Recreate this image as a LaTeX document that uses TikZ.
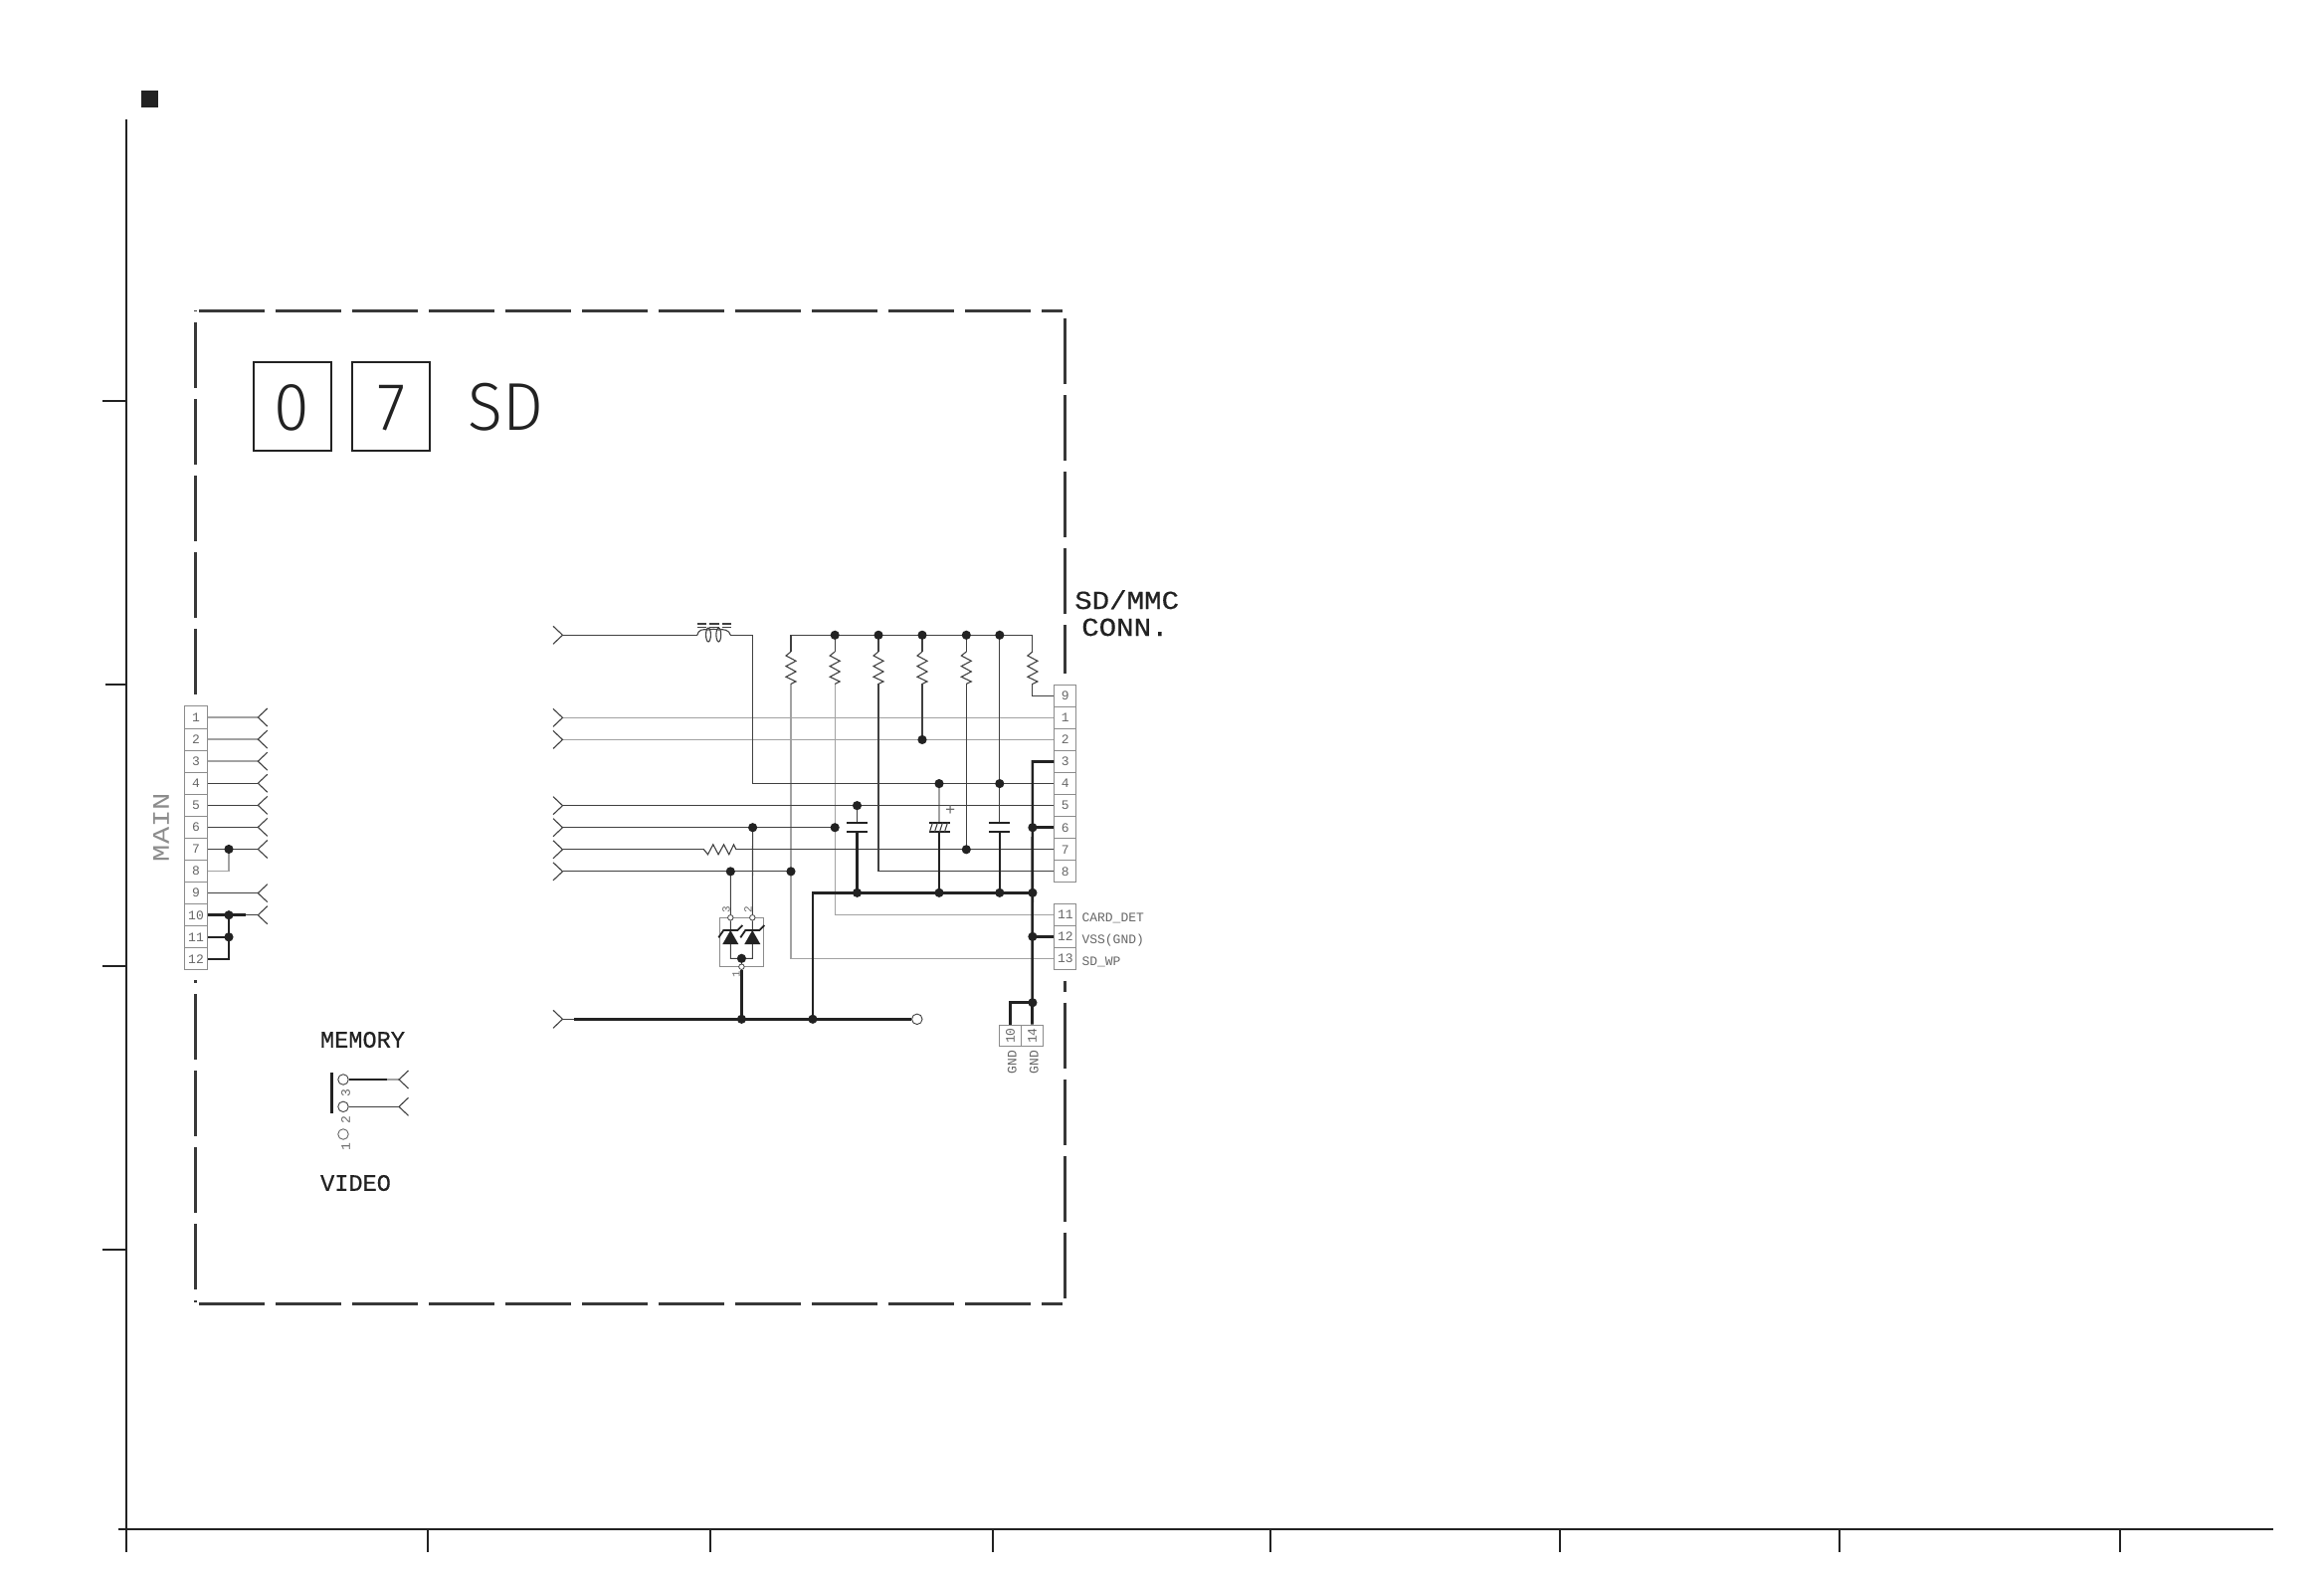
\documentclass[tikz,border=0pt]{standalone}
\usepackage{fontspec}
\setmainfont{Liberation Sans}
\newfontfamily\monoface{Liberation Mono}
\newfontfamily\heavyface[FakeBold=0.5]{Liberation Mono}
\newfontfamily\wideface[FakeStretch=1.2]{Liberation Mono}
\newfontfamily\wideheavy[FakeStretch=1.12,FakeBold=0.5]{Liberation Mono}
\newfontfamily\thinface[FakeStretch=0.95]{Fira Sans Light}

\definecolor{ink}{HTML}{222222}
\definecolor{wiredark}{HTML}{404040}
\definecolor{wirepale}{HTML}{A2A2A2}
\definecolor{labelgray}{HTML}{666666}
\definecolor{mainlabel}{HTML}{8C8C8C}

\pgfdeclarelayer{bg}
\pgfsetlayers{bg,main}

\tikzset{
  axisline/.style={draw=ink,line width=2pt},
  framedash/.style={draw=ink!90,line width=3pt,dash pattern=on 66pt off 11pt},
  thinw/.style={draw=wiredark,line width=1.1pt},
  palew/.style={draw=wirepale,line width=1.4pt},
  thickw/.style={draw=ink,line width=2.6pt},
  pincell/.style={draw=black!45,line width=1pt,minimum width=21.7pt,minimum height=22.07pt,inner sep=0pt,text=labelgray,font=\monoface\fontsize{13}{13}\selectfont},
  smalltext/.style={text=labelgray,inner sep=0pt,font=\monoface\fontsize{13}{13}\selectfont},
  bigtext/.style={text=ink,inner sep=0pt,font=\heavyface\fontsize{23.6}{24}\selectfont},
  titlebox/.style={draw=ink,line width=1.8pt,minimum width=78pt,minimum height=89pt,inner sep=0pt,text height=47pt,text depth=0pt,text=ink,font=\thinface\fontsize{68}{68}\selectfont},
  opendot/.style={circle,draw=wiredark,fill=white,line width=.8pt,inner sep=0pt,minimum size=5.5pt},
  openring/.style={circle,draw=wiredark,fill=white,line width=.9pt,inner sep=0pt,minimum size=10.5pt},
  resistor/.pic={
    \draw[thinw] (0,0) -- (-5,4) -- (5,9.3) -- (-5,14.6) -- (5,20) -- (-5,25.3) -- (5,30) -- (0,32.4);
  },
  plates/.pic={
    \draw[draw=ink,line width=2.2pt] (-10.5,-4.7) -- (10.5,-4.7) (-10.5,4.7) -- (10.5,4.7);
  },
  zener/.pic={
    \fill[ink] (0,0) -- (8,14) -- (-8,14) -- cycle;
    \draw[draw=ink,line width=1.8pt] (-12,7.3) -- (-7,0) -- (7,0) -- (12,-5);
  },
}

\begin{document}
\begin{tikzpicture}[x=1pt,y=-1pt]
  \useasboundingbox (0,0) rectangle (2336,1584);

  % sheet rulers
  \fill[ink] (142,91) rectangle (159,108);
  \coordinate (axtop) at (127,120);
  \coordinate (axbot) at (127,1560);
  \coordinate (axleft) at (119,1537);
  \coordinate (axright) at (2285,1537);
  \draw[axisline] (axtop) -- (axbot);
  \draw[axisline] (axleft) -- (axright);
  \foreach \y/\l in {403/103,688/106,971/103,1256/103} {
    \draw[axisline] (\l,\y) -- (127,\y);
  };
  \foreach \x in {430,714,998,1277,1568,1849,2131} {
    \draw[axisline] (\x,1537) -- (\x,1560);
  };

  % dashed block outline, broken at the two connectors
  \draw[framedash] (200,312.7) -- (1068,312.7);
  \draw[framedash] (200,1310.7) -- (1068,1310.7);
  \draw[framedash,dash phase=65pt] (196.7,312) -- (196.7,698);
  \draw[framedash,dash phase=63pt] (196.7,985) -- (196.7,1309);
  \draw[framedash,dash phase=17pt] (1070.7,676.7) -- (1070.7,315);
  \draw[framedash,dash phase=55pt] (1070.7,985.7) -- (1070.7,1306);

  % title
  \node[titlebox] (box0) at (293.7,408.8) {0};
  \node[titlebox] (box7) at (393.3,408.8) {7};
  \node[anchor=base west,inner sep=0pt,text=ink,font=\thinface\fontsize{68}{68}\selectfont] (sdtitle) at (470,432.3) {SD};

  % SD/MMC connector
  \foreach [count=\n] \p in {9,1,2,3,4,5,6,7,8} {
    \pgfmathsetmacro\yy{699.3+22.07*(\n-1)}
    \node[pincell] (sd\p) at (1070.8,\yy) {\p};
    \coordinate (in\p) at (565.5,\yy);
  };
  \foreach [count=\n] \p in {11,12,13} {
    \pgfmathsetmacro\yy{919.3+22.07*(\n-1)}
    \node[pincell] (sd\p) at (1070.8,\yy) {\p};
  };
  \node[pincell,rotate=90] (gnd10) at (1015.5,1041) {10};
  \node[pincell,rotate=90] (gnd14) at (1037.5,1041) {14};

  % MAIN connector
  \foreach \n in {1,...,12} {
    \pgfmathsetmacro\yy{721+22.08*(\n-1)}
    \node[pincell,minimum width=22.6pt] (main\n) at (197,\yy) {\n};
    \coordinate (out\n) at (259.3,\yy);
  };

  % columns above the connector
  \foreach \x [count=\n] in {795,839.2,883,927,971.3,1037.9} {
    \coordinate (top\n) at (\x,638.3);
    \coordinate (rt\n) at (\x,655);
    \coordinate (rb\n) at (\x,687.4);
  };
  \coordinate (topc) at (1004.8,638.3);
  \coordinate (inlead) at (565.5,638.3);
  \coordinate (indl) at (700.8,638.3);
  \coordinate (indr) at (734.3,638.3);
  \coordinate (indd) at (756.6,638.3);

  % junctions
  \coordinate (j4l) at (indd |- sd4);
  \coordinate (j2) at (rb4 |- sd2);
  \coordinate (j4a) at (944,0 |- sd4);
  \coordinate (j4b) at (topc |- sd4);
  \coordinate (j5) at (861.5,0 |- sd5);
  \coordinate (j6a) at (indd |- sd6);
  \coordinate (j6b) at (rb2 |- sd6);
  \coordinate (j7) at (rb5 |- sd7);
  \coordinate (j8a) at (734.3,0 |- sd8);
  \coordinate (j8b) at (rb1 |- sd8);
  \coordinate (rl) at (707.5,0 |- sd7);
  \coordinate (rr) at (740,0 |- sd7);
  \coordinate (bus0) at (816.9,897.3);
  \coordinate (busa) at (861.5,897.3);
  \coordinate (busb) at (944,897.3);
  \coordinate (busc) at (1004.8,897.3);
  \coordinate (busd) at (1037.9,897.3);
  \coordinate (b3) at (rb6 |- sd3);
  \coordinate (b6) at (rb6 |- sd6);
  \coordinate (b12) at (rb6 |- sd12);
  \coordinate (b10) at (1037.9,1007.7);
  \coordinate (b10l) at (gnd10 |- b10);
  \coordinate (c1t) at (861.5,826.7);
  \coordinate (c1b) at (861.5,836);
  \coordinate (c2t) at (944,826.7);
  \coordinate (c2b) at (944,836);
  \coordinate (c3t) at (1004.8,826.7);
  \coordinate (c3b) at (1004.8,836);
  \coordinate (c1m) at (861.5,831.3);
  \coordinate (c2m) at (944,831.3);
  \coordinate (c3m) at (1004.8,831.3);
  \coordinate (in14) at (565.5,1024.3);
  \coordinate (lowa) at (577,1024.3);
  \coordinate (lowb) at (745.4,1024.3);
  \coordinate (lowc) at (816.9,1024.3);
  \coordinate (lowd) at (915.5,1024.3);
  \node[openring] (lowend) at (921.8,1024.3) {};

  % pale wires go behind the others
  \begin{pgfonlayer}{bg}
  \draw[palew] (in1) -- (sd1.west);
  \draw[palew] (in2) -- (sd2.west);
  \draw[palew] (rb1) |- (sd13.west);
  \draw[palew] (rb2) |- (sd11.west);
  \draw[palew] (j4a) -- (c2t);
  \draw[palew] (main1.east) -- (out1);
  \draw[palew] (main2.east) -- (out2);
  \draw[palew] (main3.east) -- (out3);
  \end{pgfonlayer}

  % inputs and pull-ups
  \draw[thinw] (inlead) -- (indl);
  \draw[thinw] (indr) -- (indd) -- (j4l) -- (sd4.west);
  \draw[thinw] (top1) -- (top6);
  \foreach \n in {1,...,6} {
    \draw[thinw] (top\n) -- (rt\n);
    \pic at (rt\n) {resistor};
  };
  \draw[thinw] (rb6) |- (sd9.west);
  \draw[thinw] (rb3) |- (sd8.west);
  \draw[thinw] (rb4) -- (j2);
  \draw[thinw] (rb5) -- (j7);
  \draw[thinw] (topc) -- (c3t);
  \draw[thinw] (j5) -- (c1t);
  \draw[thinw] (in5) -- (sd5.west);
  \draw[thinw] (in6) -- (j6b);
  \draw[thinw] (in7) -- (rl);
  \draw[thinw] (rr) -- (sd7.west);
  \draw[thinw] (in8) -- (j8b);
  \pic[rotate=90] at (rl) {resistor};

  % inductor
  \draw[thinw] (indl) .. controls (702,633) and (706,632) .. (712,633) .. controls (716,632) and (719,632) .. (722.3,633) .. controls (727,632) and (733,633) .. (indr);
  \draw[thinw] (712,638) ellipse (2.4pt and 7pt);
  \draw[thinw] (722.3,638) ellipse (2.4pt and 7pt);
  \foreach \a/\b in {700.8/709.7,712.9/723,726/735} {
    \draw[thinw] (\a,627) -- (\b,627);
    \draw[thinw] (\a,630.5) -- (\b,630.5);
  };

  % capacitors
  \pic at (c1m) {plates};
  \pic at (c2m) {plates};
  \pic at (c3m) {plates};
  \foreach \h in {-8,-3,2,7} {
    \draw[thinw] (944+\h-1.5,836) -- (944+\h+1.5,826.7);
  };
  \node[smalltext,font=\monoface\fontsize{17}{17}\selectfont] (polplus) at (955.3,815) {+};

  % ground net
  \draw[thickw] (sd3.west) -- (b3) -- (gnd14.east);
  \draw[thickw] (b6) -- (sd6.west);
  \draw[thickw] (b12) -- (sd12.west);
  \draw[thickw] (b10) -- (b10l) -- (gnd10.east);
  \draw[thickw] (busd) -- (bus0) -- (lowc);
  \draw[thickw] (c1b) -- (busa);
  \draw[thickw] (c2b) -- (busb);
  \draw[thickw] (c3b) -- (busc);
  \draw[thinw] (in14) -- (lowa);
  \draw[thickw] (lowa) -- (lowd);

  % ESD pair
  \draw[draw=black!45,line width=1pt] (723.3,922.3) rectangle (767.7,971.7);
  \coordinate (z3) at (734.3,935);
  \coordinate (z2) at (756.3,935);
  \coordinate (z3b) at (734.3,963.3);
  \coordinate (z2b) at (756.3,963.3);
  \coordinate (zj) at (745.4,963.3);
  \node[opendot] (tm3) at (734.3,922.3) {};
  \node[opendot] (tm2) at (756.3,922.3) {};
  \node[opendot] (tm1) at (745.4,971.7) {};
  \draw[thinw] (j8a) -- (tm3) -- (z3) -- (z3b) -- (z2b) -- (z2) -- (tm2) -- (j6a);
  \draw[thinw] (zj) -- (tm1);
  \draw[thickw] (tm1) -- (lowb);
  \pic at (z3) {zener};
  \pic at (z2) {zener};
  \node[smalltext,rotate=90,font=\monoface\fontsize{11}{11}\selectfont] (lb3) at (730,913.7) {3};
  \node[smalltext,rotate=90,font=\monoface\fontsize{11}{11}\selectfont] (lb2) at (752,913.7) {2};
  \node[smalltext,rotate=90,font=\monoface\fontsize{11}{11}\selectfont] (lb1) at (740,979) {1};

  % MAIN wiring
  \coordinate (mj7) at (230,0 |- main7);
  \coordinate (mj10) at (230,0 |- main10);
  \coordinate (mj11) at (230,0 |- main11);
  \coordinate (mj12) at (230,0 |- main12);
  \coordinate (msplit) at (247.3,0 |- main10);
  \foreach \n in {4,5,6,7,9} {
    \draw[thinw] (main\n.east) -- (out\n);
  };
  \draw[palew] (main8.east) -- (mj7 |- main8) -- (mj7);
  \draw[thickw] (main10.east) -- (msplit);
  \draw[thinw] (msplit) -- (out10);
  \draw[thickw] (main11.east) -- (mj11);
  \draw[thickw] (main12.east) -- (mj12) -- (mj10);

  % memory / video switch
  \node[openring] (sw3) at (345,1085) {};
  \node[openring] (sw2) at (345,1112.3) {};
  \node[openring,draw=labelgray] (sw1) at (345,1140) {};
  \coordinate (swsplit) at (389.3,1085);
  \coordinate (swa) at (401,1085);
  \coordinate (swb) at (401,1112.3);
  \draw[thickw] (sw3) -- (swsplit);
  \draw[palew] (swsplit) -- (swa);
  \draw[thinw] (sw2) -- (swb);
  \draw[draw=ink,line width=2.6pt] (333.3,1078) -- (333.3,1119);
  \node[smalltext,rotate=90] (sl3) at (347.5,1098.3) {3};
  \node[smalltext,rotate=90] (sl2) at (347.5,1125.7) {2};
  \node[smalltext,rotate=90] (sl1) at (347.5,1152.7) {1};

  % signal ends
  \foreach \c in {inlead,in1,in2,in5,in6,in7,in8,in14} {
    \draw[thinw] (\c) ++(-9.5,-9) -- (\c) -- ++(-9.5,9);
  };
  \foreach \c in {out1,out2,out3,out4,out5,out6,out7,out9,out10,swa,swb} {
    \draw[thinw] (\c) ++(9.5,-9) -- (\c) -- ++(9.5,9);
  };

  % connection dots
  \foreach \j in {top2,top3,top4,top5,topc,j2,j4a,j4b,j5,j6a,j6b,j7,j8a,j8b,busa,busb,busc,busd,b6,b12,b10,lowb,lowc,zj,mj7,mj10,mj11} {
    \fill[ink] (\j) circle (4.6pt);
  };

  % labels
  \node[bigtext,anchor=base west,font=\wideheavy\fontsize{26}{26}\selectfont] (sdmmc) at (1080,612) {SD/MMC};
  \node[bigtext,anchor=base west,font=\wideheavy\fontsize{26}{26}\selectfont] (conn) at (1087,639) {CONN.};
  \node[smalltext,anchor=base west] (lcard) at (1087.3,926) {CARD\_DET};
  \node[smalltext,anchor=base west] (lvss) at (1087.3,948) {VSS(GND)};
  \node[smalltext,anchor=base west] (lwp) at (1087.3,970) {SD\_WP};
  \node[smalltext,rotate=90] (lgnda) at (1017.3,1067.7) {GND};
  \node[smalltext,rotate=90] (lgndb) at (1039.3,1067.7) {GND};
  \node[bigtext] (lmemory) at (364.5,1045) {MEMORY};
  \node[bigtext] (lvideo) at (357.5,1189) {VIDEO};
  \node[smalltext,rotate=90,text=mainlabel,font=\wideface\fontsize{24}{24}\selectfont] (lmain) at (162,831.7) {MAIN};

\end{tikzpicture}
\end{document}
